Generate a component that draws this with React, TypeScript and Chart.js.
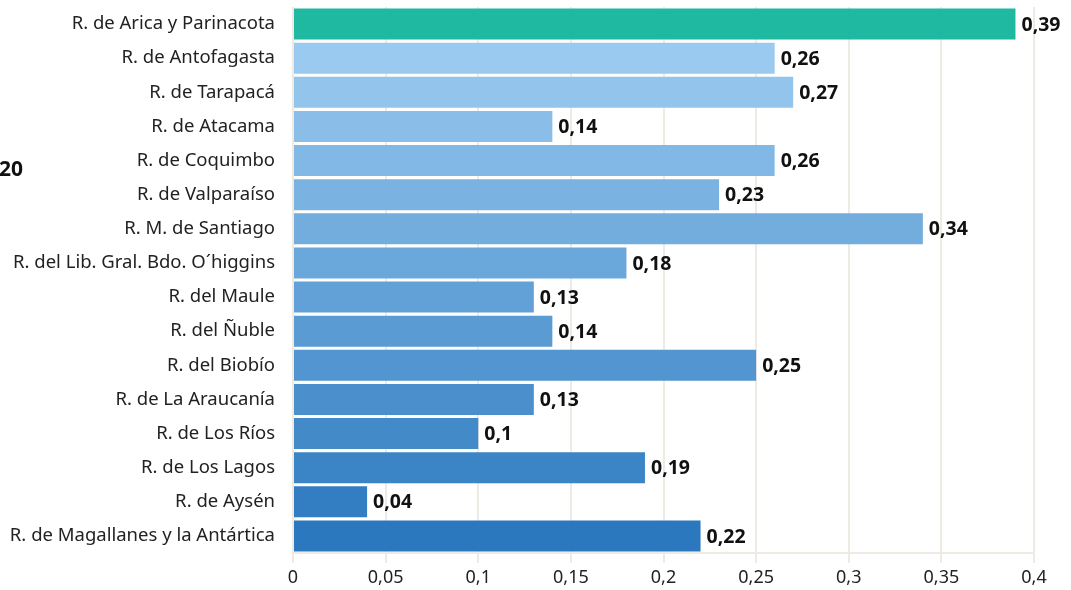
import React, { useEffect, useRef } from "react";
import { Chart, registerables } from "chart.js";

Chart.register(...registerables);

const regions = [
  "R. de Arica y Parinacota",
  "R. de Antofagasta",
  "R. de Tarapacá",
  "R. de Atacama",
  "R. de Coquimbo",
  "R. de Valparaíso",
  "R. M. de Santiago",
  "R. del Lib. Gral. Bdo. O´higgins",
  "R. del Maule",
  "R. del Ñuble",
  "R. del Biobío",
  "R. de La Araucanía",
  "R. de Los Ríos",
  "R. de Los Lagos",
  "R. de Aysén",
  "R. de Magallanes y la Antártica",
];

const values = [0.39, 0.26, 0.27, 0.14, 0.26, 0.23, 0.34, 0.18, 0.13, 0.14, 0.25, 0.13, 0.1, 0.19, 0.04, 0.22];

const xTicks = [0, 0.05, 0.1, 0.15, 0.2, 0.25, 0.3, 0.35, 0.4];

const barColors = [
  "#1FB9A2",
  "#9ACAEF",
  "#92C4EC",
  "#8ABEE8",
  "#82B8E5",
  "#7AB3E1",
  "#72ADDE",
  "#6AA7DA",
  "#62A1D7",
  "#5B9BD3",
  "#5395D0",
  "#4B8FCC",
  "#438AC9",
  "#3B84C5",
  "#337EC2",
  "#2B78BE",
];

const FONT = "'Noto Sans', sans-serif";
const fmt = (v: number) => String(v).replace(".", ",");

const valueLabels = {
  id: "valueLabels",
  afterDatasetsDraw(chart: any) {
    const ctx = chart.ctx;
    const meta = chart.getDatasetMeta(0);
    ctx.save();
    ctx.font = `bold 19.5px ${FONT}`;
    ctx.fillStyle = "#111";
    ctx.textAlign = "left";
    ctx.textBaseline = "middle";
    meta.data.forEach((bar: any, i: number) => {
      ctx.fillText(fmt(values[i]), bar.x + 6, bar.y + 1);
    });
    ctx.restore();
  },
};

export default function App() {
  const ref = useRef<HTMLCanvasElement>(null);
  useEffect(() => {
    if (!ref.current) return;
    const chart = new Chart(ref.current, {
      type: "bar",
      data: {
        labels: regions,
        datasets: [
          {
            data: values,
            backgroundColor: barColors,
            borderWidth: 0,
            barPercentage: 0.91,
            categoryPercentage: 1,
          },
        ],
      },
      options: {
        indexAxis: "y",
        animation: false,
        responsive: true,
        maintainAspectRatio: false,
        layout: { padding: { top: 7, right: 37, left: 0, bottom: 0 } },
        plugins: {
          legend: { display: false },
          tooltip: { enabled: false },
        },
        scales: {
          x: {
            min: 0,
            max: 0.4,
            afterBuildTicks: (axis: any) => {
              axis.ticks = xTicks.map((v) => ({ value: v }));
            },
            afterFit: (axis: any) => {
              axis.paddingLeft = 0;
              axis.paddingRight = 0;
              axis.height = 37;
            },
            ticks: {
              color: "#222",
              font: { family: FONT, size: 18 },
              padding: 4,
              callback: (v: any) => fmt(Number(v)),
              maxRotation: 0,
            },
            grid: {
              color: "#EEEBE5",
              lineWidth: 2,
              tickLength: 10,
              drawOnChartArea: true,
            },
            border: { display: true, color: "#EEEBE5", width: 2 },
          },
          y: {
            afterFit: (axis: any) => {
              axis.width = 293;
              axis.paddingTop = 0;
              axis.paddingBottom = 0;
            },
            ticks: {
              color: "#222",
              font: { family: FONT, size: 18.5 },
              padding: 18,
            },
            grid: { display: false, drawTicks: false },
            border: { display: false },
          },
        },
      },
      plugins: [valueLabels],
    });
    return () => chart.destroy();
  }, []);

  return (
    <div style={{ position: "absolute", left: 0, top: 0, width: 1071, height: 590, background: "#fff" }}>
      <canvas ref={ref} />
      <div
        style={{
          position: "absolute",
          left: -1,
          top: 154,
          fontFamily: FONT,
          fontWeight: "bold",
          fontSize: 21,
          color: "#111",
        }}
      >
        20
      </div>
    </div>
  );
}
